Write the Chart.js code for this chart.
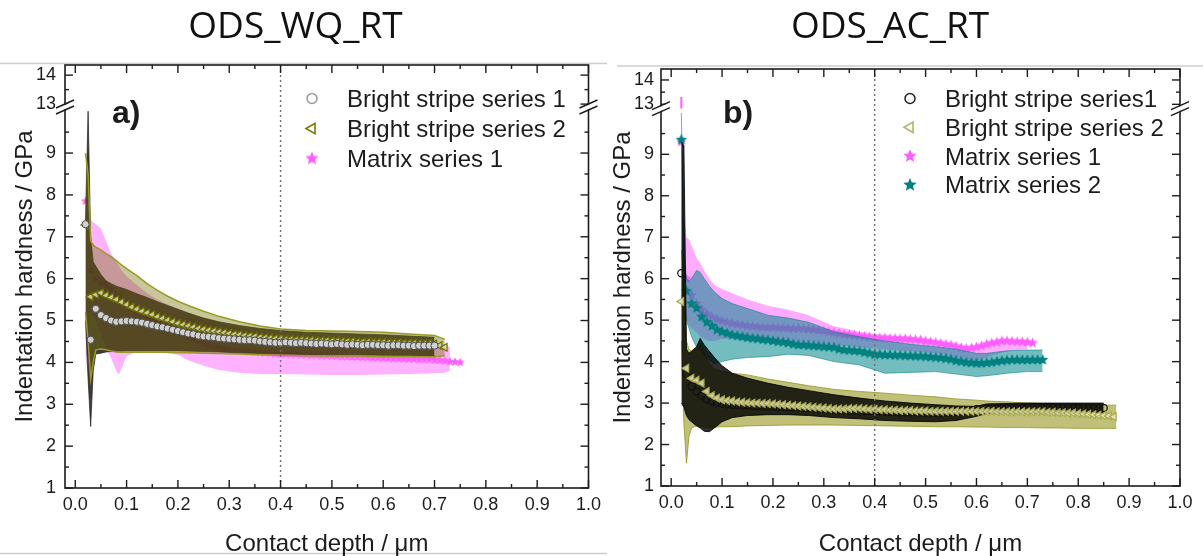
<!DOCTYPE html>
<html>
<head>
<meta charset="utf-8">
<script src="https://cdn.jsdelivr.net/npm/chart.js@4.4.1/dist/chart.umd.min.js"></script>
<style>
  html, body { margin: 0; padding: 0; background: #fff; }
  #wrap { position: relative; width: 1203px; height: 556px; overflow: hidden; }
  canvas { position: absolute; top: 0; }
  #chartA { left: 0; }
  #chartB { left: 600px; }
</style>
</head>
<body>
<div id="wrap">
  <canvas id="chartA" width="607" height="556"></canvas>
  <canvas id="chartB" width="603" height="556"></canvas>
</div>
<script>
// ---- axis ticks ----
const xTickValues = [0, 0.1, 0.2, 0.3, 0.4, 0.5, 0.6, 0.7, 0.8, 0.9, 1.0];
const yTickValues = [1, 2, 3, 4, 5, 6, 7, 8, 9];
const yTopTickValues = [13, 14];
const refDepth = 0.4;

// ---- (a) ODS_WQ_RT : mean hardness vs contact depth ----
const depthA = [0.02, 0.03, 0.04, 0.05, 0.06, 0.07, 0.08, 0.09, 0.10,
  0.11, 0.12, 0.13, 0.14, 0.15, 0.16, 0.17, 0.18, 0.19, 0.20,
  0.21, 0.22, 0.23, 0.24, 0.25, 0.26, 0.27, 0.28, 0.29, 0.30,
  0.31, 0.32, 0.33, 0.34, 0.35, 0.36, 0.37, 0.38, 0.39, 0.40,
  0.41, 0.42, 0.43, 0.44, 0.45, 0.46, 0.47, 0.48, 0.49, 0.50,
  0.51, 0.52, 0.53, 0.54, 0.55, 0.56, 0.57, 0.58, 0.59, 0.60,
  0.61, 0.62, 0.63, 0.64, 0.65, 0.66, 0.67, 0.68, 0.69, 0.70,
  0.71, 0.72, 0.73, 0.74, 0.75];
const brightA1 = [7.30, 4.54, 5.28, 5.13, 5.06, 5.00, 4.97, 4.98, 4.99,
  4.98, 4.97, 4.95, 4.92, 4.89, 4.86, 4.84, 4.81, 4.78, 4.75,
  4.72, 4.69, 4.67, 4.64, 4.62, 4.61, 4.60, 4.58, 4.57, 4.56,
  4.55, 4.54, 4.53, 4.53, 4.52, 4.50, 4.49, 4.48, 4.47, 4.47,
  4.48, 4.47, 4.46, 4.47, 4.46, 4.45, 4.44, 4.45, 4.44, 4.43,
  4.44, 4.43, 4.42, 4.43, 4.42, 4.41, 4.42, 4.42, 4.41, 4.41,
  4.40, 4.41, 4.41, 4.40, 4.40, 4.39, 4.40, 4.40, 4.40, 4.40];
const brightA2 = [7.28, 5.57, 5.62, 5.66, 5.60, 5.55, 5.50, 5.44, 5.38,
  5.32, 5.27, 5.22, 5.18, 5.14, 5.09, 5.05, 5.01, 4.97, 4.93,
  4.90, 4.87, 4.84, 4.81, 4.79, 4.77, 4.75, 4.73, 4.71, 4.69,
  4.67, 4.66, 4.64, 4.63, 4.62, 4.60, 4.59, 4.58, 4.57, 4.56,
  4.55, 4.55, 4.54, 4.54, 4.53, 4.53, 4.52, 4.52, 4.52, 4.51,
  4.51, 4.50, 4.50, 4.50, 4.49, 4.49, 4.49, 4.48, 4.48, 4.48,
  4.47, 4.47, 4.47, 4.46, 4.46, 4.46, 4.45, 4.45, 4.45, 4.44,
  4.40, 4.36];
const matrixA1 = [7.85, 6.20, 6.00, 5.90, 5.85, 5.75, 5.62, 5.50, 5.40,
  5.30, 5.22, 5.15, 5.08, 5.00, 4.95, 4.90, 4.85, 4.80, 4.75,
  4.68, 4.62, 4.56, 4.50, 4.45, 4.41, 4.38, 4.35, 4.32, 4.30,
  4.29, 4.28, 4.27, 4.26, 4.25, 4.24, 4.23, 4.22, 4.21, 4.20,
  4.20, 4.19, 4.19, 4.18, 4.18, 4.17, 4.17, 4.16, 4.16, 4.15,
  4.15, 4.14, 4.14, 4.13, 4.13, 4.12, 4.12, 4.11, 4.11, 4.10,
  4.10, 4.09, 4.09, 4.09, 4.08, 4.08, 4.07, 4.07, 4.07, 4.06,
  4.05, 4.04, 4.02, 4.01, 4.00];

// scatter bands (lower / upper bound) on a coarser depth grid
const bandDepthA = [0.020, 0.025, 0.030, 0.035, 0.040, 0.050, 0.060, 0.070, 0.080, 0.085,
  0.090, 0.100, 0.120, 0.140, 0.160, 0.180, 0.200, 0.220, 0.250, 0.280,
  0.320, 0.360, 0.400, 0.450, 0.500, 0.550, 0.600, 0.650, 0.700, 0.720,
  0.730];
const brightA1Hi = [7.40, 10.00, 7.00, 6.40, 6.30, 6.10, 5.95, 5.88, 5.82, 5.80,
  5.78, 5.74, 5.64, 5.55, 5.45, 5.36, 5.27, 5.18, 5.06, 4.97,
  4.88, 4.81, 4.76, 4.72, 4.70, 4.68, 4.66, 4.63, 4.60, null,
  null];
const brightA1Lo = [5.00, 3.60, 2.47, 3.80, 4.20, 4.22, 4.25, 4.26, 4.26, 4.27,
  4.27, 4.28, 4.28, 4.28, 4.28, 4.28, 4.28, 4.27, 4.26, 4.25,
  4.23, 4.21, 4.20, 4.19, 4.18, 4.18, 4.17, 4.16, 4.15, null,
  null];
const brightA2Hi = [9.00, 8.50, 6.90, 6.80, 6.75, 6.68, 6.60, 6.52, 6.43, 6.38,
  6.33, 6.24, 6.07, 5.88, 5.72, 5.58, 5.46, 5.36, 5.22, 5.10,
  4.97, 4.87, 4.80, 4.76, 4.75, 4.74, 4.72, 4.68, 4.64, 4.55,
  null];
const brightA2Lo = [5.20, 4.50, 3.60, 4.00, 4.30, 4.32, 4.30, 4.27, 4.25, 4.24,
  4.24, 4.24, 4.24, 4.24, 4.24, 4.24, 4.23, 4.23, 4.22, 4.21,
  4.20, 4.18, 4.17, 4.16, 4.15, 4.15, 4.14, 4.14, 4.13, 4.16,
  null];
const matrixA1Hi = [7.90, 7.60, 7.40, 7.35, 7.30, 7.20, 6.90, 6.60, 6.40, 6.30,
  6.20, 6.05, 5.85, 5.65, 5.50, 5.38, 5.28, 5.18, 5.05, 4.95,
  4.82, 4.72, 4.64, 4.59, 4.56, 4.53, 4.51, 4.49, 4.46, 4.42,
  4.36];
const matrixA1Lo = [3.67, 4.50, 5.30, 5.10, 5.00, 4.70, 4.35, 4.10, 3.80, 3.71,
  3.85, 4.15, 4.25, 4.25, 4.25, 4.22, 4.18, 4.05, 3.92, 3.82,
  3.75, 3.72, 3.72, 3.71, 3.70, 3.70, 3.71, 3.72, 3.74, 3.75,
  3.80];

// ---- (b) ODS_AC_RT ----
const depthB = [0.02, 0.03, 0.04, 0.05, 0.06, 0.07, 0.08, 0.09, 0.10,
  0.11, 0.12, 0.13, 0.14, 0.15, 0.16, 0.17, 0.18, 0.19, 0.20,
  0.21, 0.22, 0.23, 0.24, 0.25, 0.26, 0.27, 0.28, 0.29, 0.30,
  0.31, 0.32, 0.33, 0.34, 0.35, 0.36, 0.37, 0.38, 0.39, 0.40,
  0.41, 0.42, 0.43, 0.44, 0.45, 0.46, 0.47, 0.48, 0.49, 0.50,
  0.51, 0.52, 0.53, 0.54, 0.55, 0.56, 0.57, 0.58, 0.59, 0.60,
  0.61, 0.62, 0.63, 0.64, 0.65, 0.66, 0.67, 0.68, 0.69, 0.70,
  0.71, 0.72, 0.73, 0.74, 0.75, 0.76, 0.77, 0.78, 0.79, 0.80,
  0.81, 0.82, 0.83, 0.84, 0.85, 0.86, 0.87];
const brightB1 = [6.13, 3.70, 3.40, 3.28, 3.18, 3.10, 3.05, 3.01, 2.99,
  2.97, 2.96, 2.95, 2.95, 2.94, 2.94, 2.93, 2.93, 2.92, 2.92,
  2.91, 2.91, 2.90, 2.90, 2.89, 2.88, 2.88, 2.87, 2.87, 2.86,
  2.85, 2.84, 2.83, 2.83, 2.82, 2.82, 2.81, 2.81, 2.80, 2.80,
  2.80, 2.79, 2.79, 2.79, 2.78, 2.78, 2.78, 2.78, 2.77, 2.77,
  2.77, 2.77, 2.77, 2.78, 2.78, 2.79, 2.80, 2.81, 2.83, 2.85,
  2.86, 2.87, 2.88, 2.87, 2.88, 2.89, 2.88, 2.88, 2.89, 2.88,
  2.88, 2.89, 2.88, 2.88, 2.89, 2.88, 2.88, 2.89, 2.88, 2.88,
  2.89, 2.88, 2.88, 2.89, 2.88];
const brightB2 = [5.45, 3.84, 3.60, 3.55, 3.48, 3.28, 3.18, 3.12, 3.08,
  3.06, 3.05, 3.03, 3.02, 3.01, 3.00, 3.00, 2.99, 2.99, 2.98,
  2.97, 2.96, 2.95, 2.94, 2.93, 2.92, 2.91, 2.90, 2.89, 2.88,
  2.87, 2.86, 2.86, 2.86, 2.87, 2.87, 2.87, 2.86, 2.85, 2.85,
  2.84, 2.84, 2.83, 2.83, 2.82, 2.82, 2.82, 2.81, 2.81, 2.81,
  2.80, 2.80, 2.80, 2.80, 2.80, 2.80, 2.80, 2.80, 2.80, 2.80,
  2.80, 2.80, 2.80, 2.79, 2.79, 2.79, 2.79, 2.79, 2.79, 2.79,
  2.79, 2.79, 2.79, 2.78, 2.78, 2.77, 2.77, 2.76, 2.76, 2.75,
  2.74, 2.73, 2.72, 2.71, 2.70, 2.69, 2.67];
const matrixB1 = [9.30, 6.00, 5.60, 5.40, 5.25, 5.15, 5.08, 5.02, 4.98,
  4.95, 4.92, 4.90, 4.88, 4.86, 4.85, 4.84, 4.83, 4.82, 4.82,
  4.81, 4.81, 4.80, 4.80, 4.80, 4.79, 4.78, 4.77, 4.75, 4.74,
  4.72, 4.70, 4.68, 4.66, 4.65, 4.64, 4.62, 4.61, 4.59, 4.58,
  4.57, 4.57, 4.56, 4.56, 4.55, 4.55, 4.54, 4.53, 4.52, 4.50,
  4.48, 4.46, 4.44, 4.42, 4.40, 4.37, 4.34, 4.32, 4.33, 4.35,
  4.38, 4.42, 4.45, 4.47, 4.50, 4.50, 4.49, 4.48, 4.48, 4.47,
  4.45];
const matrixB2 = [9.35, 5.70, 5.40, 5.29, 5.08, 4.95, 4.86, 4.77, 4.72,
  4.68, 4.64, 4.62, 4.60, 4.58, 4.56, 4.55, 4.53, 4.52, 4.50,
  4.48, 4.47, 4.45, 4.42, 4.40, 4.40, 4.39, 4.38, 4.37, 4.36,
  4.35, 4.34, 4.30, 4.28, 4.27, 4.26, 4.25, 4.22, 4.20, 4.17,
  4.17, 4.16, 4.16, 4.15, 4.15, 4.14, 4.14, 4.13, 4.13, 4.12,
  4.11, 4.10, 4.09, 4.07, 4.05, 4.02, 4.00, 3.98, 3.97, 3.96,
  3.96, 3.97, 3.98, 4.00, 4.02, 4.03, 4.04, 4.04, 4.04, 4.04,
  4.04, 4.04, 4.04];
// first Matrix series 1 point: error bar continues above the axis break
const capDepthB = [0.02, 0.02];
const matrixB1Cap = [12.82, 13.30];

const bandDepthB = [0.020, 0.025, 0.030, 0.035, 0.040, 0.050, 0.057, 0.065, 0.075, 0.085,
  0.100, 0.120, 0.150, 0.190, 0.230, 0.270, 0.320, 0.370, 0.420, 0.470,
  0.520, 0.560, 0.600, 0.620, 0.660, 0.700, 0.730, 0.760, 0.800, 0.850,
  0.875];
const brightB1Hi = [9.30, 9.20, 4.30, 4.20, 4.25, 4.36, 4.56, 4.40, 4.25, 4.10,
  3.90, 3.72, 3.60, 3.48, 3.38, 3.30, 3.20, 3.12, 3.05, 3.00,
  2.96, 2.93, 2.92, 2.98, 2.99, 3.00, 3.00, 3.00, 3.00, 3.00,
  null];
const brightB1Lo = [3.00, 2.90, 2.70, 2.60, 2.55, 2.45, 2.40, 2.32, 2.31, 2.40,
  2.55, 2.65, 2.70, 2.72, 2.72, 2.70, 2.65, 2.62, 2.58, 2.56,
  2.55, 2.58, 2.68, 2.75, 2.75, 2.75, 2.75, 2.76, 2.76, 2.76,
  null];
const brightB2Hi = [6.70, 6.00, 4.50, 4.30, 4.25, 4.30, 4.40, 4.20, 3.95, 3.82,
  3.76, 3.72, 3.68, 3.58, 3.50, 3.42, 3.33, 3.28, 3.24, 3.19,
  3.15, 3.10, 3.07, 3.05, 3.03, 3.00, 2.99, 2.98, 2.97, 2.95,
  2.95];
const brightB2Lo = [4.50, 2.50, 1.55, 2.20, 2.40, 2.45, 2.45, 2.42, 2.40, 2.42,
  2.43, 2.43, 2.45, 2.46, 2.47, 2.47, 2.47, 2.46, 2.45, 2.44,
  2.43, 2.43, 2.42, 2.42, 2.41, 2.41, 2.40, 2.40, 2.39, 2.39,
  2.39];
const matrixB1Hi = [9.50, 7.50, 7.00, 6.95, 6.80, 6.50, 6.37, 6.20, 6.00, 5.85,
  5.75, 5.65, 5.50, 5.35, 5.25, 5.12, 4.85, 4.72, 4.64, 4.60,
  4.50, 4.40, 4.28, 4.40, 4.52, 4.50, null, null, null, null,
  null];
const matrixB1Lo = [8.80, 5.50, 5.00, 4.90, 4.80, 4.70, 4.60, 4.55, 4.50, 4.50,
  4.55, 4.55, 4.50, 4.50, 4.48, 4.45, 4.40, 4.35, 4.30, 4.25,
  4.20, 4.10, 4.02, 4.10, 4.25, 4.30, null, null, null, null,
  null];
const matrixB2Hi = [10.00, 6.60, 6.00, 5.95, 6.00, 6.20, 6.15, 6.00, 5.82, 5.68,
  5.52, 5.40, 5.28, 5.12, 5.05, 4.95, 4.72, 4.60, 4.50, 4.42,
  4.36, 4.30, 4.20, 4.20, 4.26, 4.28, 4.28, null, null, null,
  null];
const matrixB2Lo = [5.60, 5.40, 5.00, 4.80, 4.60, 4.35, 4.28, 4.15, 4.04, 3.95,
  4.00, 4.06, 4.10, 4.12, 4.18, 4.15, 4.00, 3.92, 3.72, 3.74,
  3.76, 3.70, 3.64, 3.66, 3.72, 3.76, 3.76, null, null, null,
  null];

// ---------------------------------------------------------------
const FONT = 'Liberation Sans';
const INK = '#1c1c1c';

function pts(depth, vals) {
  return vals.map((v, i) => ({ x: depth[i], y: v }));
}

// filled five-point star used as point style
function starImage(color, r) {
  const c = document.createElement('canvas');
  const s = Math.ceil(r * 2 + 2);
  c.width = c.height = s;
  const g = c.getContext('2d');
  g.beginPath();
  for (let i = 0; i < 10; i++) {
    const rr = i % 2 ? r * 0.45 : r;
    const a = -Math.PI / 2 + i * Math.PI / 5;
    g.lineTo(s / 2 + rr * Math.cos(a), s / 2 + rr * Math.sin(a));
  }
  g.closePath();
  g.fillStyle = color;
  g.fill();
  return c;
}

function band(depth, lo, hi, fillColor, edgeColor, edgeWidth, order) {
  return [
    { data: pts(depth, lo), yAxisID: 'y', borderColor: edgeColor, borderWidth: edgeWidth,
      pointRadius: 0, fill: false, order: order },
    { data: pts(depth, hi), yAxisID: 'y', borderColor: edgeColor, borderWidth: edgeWidth,
      pointRadius: 0, fill: '-1', backgroundColor: fillColor, order: order }
  ];
}

function markers(label, depth, vals, style) {
  return Object.assign({ label: label, data: pts(depth, vals), yAxisID: 'y', showLine: false }, style);
}

function line(ctx, x1, y1, x2, y2) {
  ctx.beginPath(); ctx.moveTo(x1, y1); ctx.lineTo(x2, y2); ctx.stroke();
}

function halfSteps(vals, lo, hi) {
  const out = [];
  for (let i = 0; i < vals.length; i++) {
    const step = i < vals.length - 1 ? vals[i + 1] - vals[i] : vals[i] - vals[i - 1];
    const h = vals[i] + step / 2;
    if (h > lo && h < hi) out.push(h);
  }
  return out;
}

// frame, inward ticks, axis break, dotted line, legend and panel labels
const panelDeco = {
  id: 'panelDeco',
  beforeDraw(chart, args, o) {
    const ctx = chart.ctx;
    ctx.save();
    ctx.strokeStyle = '#cdcdcd';
    ctx.lineWidth = 1.5;
    o.sheetLines.forEach(l => line(ctx, l[0], l[1], l[2], l[3]));
    ctx.restore();
  },
  afterDatasetsDraw(chart, args, o) {
    const { ctx, chartArea: ca } = chart;
    const xs = chart.scales.x, ys = chart.scales.y, yt = chart.scales.yTop;
    ctx.save();

    const rx = xs.getPixelForValue(refDepth);
    ctx.strokeStyle = '#707070';
    ctx.lineWidth = 1.4;
    ctx.setLineDash([2, 3]);
    line(ctx, rx, ca.top, rx, ca.bottom);
    ctx.setLineDash([]);

    ctx.strokeStyle = INK;
    ctx.lineWidth = 1.6;
    ctx.strokeRect(ca.left, ca.top, ca.right - ca.left, ca.bottom - ca.top);

    ctx.lineWidth = 1.4;
    xTickValues.forEach(v => {
      const p = xs.getPixelForValue(v);
      line(ctx, p, ca.bottom, p, ca.bottom - 8);
      line(ctx, p, ca.top, p, ca.top + 8);
    });
    halfSteps(xTickValues, xs.min, xs.max).forEach(v => {
      const p = xs.getPixelForValue(v);
      line(ctx, p, ca.bottom, p, ca.bottom - 4);
      line(ctx, p, ca.top, p, ca.top + 4);
    });
    [[ys, yTickValues], [yt, yTopTickValues]].forEach(([s, vals]) => {
      vals.forEach(v => {
        const p = s.getPixelForValue(v);
        line(ctx, ca.left, p, ca.left + 8, p);
        line(ctx, ca.right, p, ca.right - 8, p);
      });
      halfSteps(vals, s.min, s.max).forEach(v => {
        const p = s.getPixelForValue(v);
        line(ctx, ca.left, p, ca.left + 4, p);
        line(ctx, ca.right, p, ca.right - 4, p);
      });
    });

    // axis break marks
    const yb = ys.top;
    [ca.left, ca.right].forEach(ax => {
      ctx.strokeStyle = '#fff';
      ctx.lineWidth = 4;
      line(ctx, ax - 9, yb + 4, ax + 9, yb - 4);
      ctx.strokeStyle = INK;
      ctx.lineWidth = 1.4;
      line(ctx, ax - 9, yb + 7, ax + 9, yb - 1);
      line(ctx, ax - 9, yb + 1, ax + 9, yb - 7);
    });

    // y axis title
    ctx.fillStyle = INK;
    ctx.save();
    ctx.translate(o.yTitleX, (ca.top + ca.bottom) / 2);
    ctx.rotate(-Math.PI / 2);
    ctx.font = '24px "' + FONT + '"';
    ctx.textAlign = 'center';
    ctx.textBaseline = 'middle';
    ctx.fillText('Indentation hardness / GPa', 0, 0);
    ctx.restore();

    // panel letter
    ctx.font = 'bold 32px "' + FONT + '"';
    ctx.textAlign = 'left';
    ctx.textBaseline = 'alphabetic';
    ctx.fillText(o.letter, o.letterX, o.letterY);

    // legend
    o.legend.forEach((it, i) => {
      const cy = o.legendY + i * o.legendDy;
      ctx.fillStyle = it.fill;
      ctx.strokeStyle = it.stroke;
      ctx.lineWidth = it.lineWidth;
      Chart.helpers.drawPoint(ctx, { pointStyle: it.pointStyle, radius: it.radius,
        rotation: it.rotation || 0, borderWidth: it.lineWidth }, o.legendX, cy);
      ctx.fillStyle = INK;
      ctx.font = '24px "' + FONT + '"';
      ctx.fillText(it.label, o.legendTextX, cy + 8.5);
    });
    ctx.restore();
  }
};

function panelConfig(p) {
  const tickFont = { family: FONT, size: 18 };
  return {
    type: 'line',
    data: { datasets: p.datasets },
    options: {
      responsive: false,
      animation: false,
      events: [],
      layout: { padding: { left: 0, right: p.padRight, top: 0, bottom: 0 } },
      elements: { line: { tension: 0 } },
      plugins: {
        legend: { display: false },
        tooltip: { enabled: false },
        title: {
          display: true, text: p.title, color: '#111',
          font: { family: 'Open Sans', size: 37, weight: 'normal', lineHeight: 1 },
          padding: { top: 9, bottom: p.titleGap }
        },
        panelDeco: p.deco
      },
      scales: {
        x: {
          type: 'linear', min: -0.02, max: 1.0,
          grid: { display: false, drawTicks: false }, border: { display: false },
          afterBuildTicks: s => { s.ticks = xTickValues.map(v => ({ value: v })); },
          afterFit: s => { s.height = p.xAxisHeight; },
          ticks: { font: tickFont, color: INK, padding: 6, maxRotation: 0, minRotation: 0,
            autoSkip: false, callback: v => Number(v).toFixed(1) },
          title: { display: true, text: 'Contact depth / μm', color: INK,
            font: { family: FONT, size: 24, lineHeight: 1 }, padding: 0 }
        },
        y: {
          type: 'linear', position: 'left', stack: 'hardness', stackWeight: p.lowWeight,
          min: 1, max: 10.1,
          grid: { display: false, drawTicks: false }, border: { display: false },
          afterBuildTicks: s => { s.ticks = yTickValues.map(v => ({ value: v })); },
          afterFit: s => { s.width = p.yAxisWidth; },
          ticks: { font: tickFont, color: INK, padding: p.yPad, autoSkip: false, callback: v => String(v) }
        },
        yTop: {
          type: 'linear', position: 'left', stack: 'hardness', stackWeight: p.topWeight,
          min: p.topMin, max: p.topMax,
          grid: { display: false, drawTicks: false }, border: { display: false },
          afterBuildTicks: s => { s.ticks = yTopTickValues.map(v => ({ value: v })); },
          afterFit: s => { s.width = p.yAxisWidth; },
          ticks: { font: tickFont, color: INK, padding: p.yPad, autoSkip: false, callback: v => String(v) }
        }
      }
    },
    plugins: [panelDeco]
  };
}

// ---- panel (a) ----
const starPinkA = starImage('#ff5cff', 4.8);
const datasetsA = [
  ...band(bandDepthA, matrixA1Lo, matrixA1Hi, 'rgba(255,85,255,0.45)', 'rgba(0,0,0,0)', 0, 30),
  markers('Matrix series 1', depthA, matrixA1, { pointStyle: starPinkA, order: 25 }),
  ...band(bandDepthA, brightA1Lo, brightA1Hi, 'rgba(20,10,10,0.8)', 'rgba(30,30,30,0.7)', 1, 20),
  ...band(bandDepthA, brightA2Lo, brightA2Hi, 'rgba(115,115,0,0.4)', '#9a9a24', 1.5, 10),
  markers('Bright stripe series 2', depthA, brightA2, { pointStyle: 'triangle', pointRotation: -90,
    pointRadius: 4.5, pointBackgroundColor: 'rgba(215,215,175,0.9)', pointBorderColor: '#6f6f00',
    pointBorderWidth: 1.2, order: 2 }),
  markers('Bright stripe series 1', depthA, brightA1, { pointStyle: 'circle', pointRadius: 3.6,
    pointBackgroundColor: '#d0d0d0', pointBorderColor: '#4a4a4a', pointBorderWidth: 1, order: 1 })
];

new Chart(document.getElementById('chartA'), panelConfig({
  title: 'ODS_WQ_RT', titleGap: 19, padRight: 16, xAxisHeight: 68, yAxisWidth: 65, yPad: 9,
  lowWeight: 381, topWeight: 42, topMin: 12.9, topMax: 14.35,
  datasets: datasetsA,
  deco: {
    sheetLines: [[0, 63.5, 607, 63.5], [0, 553.5, 607, 553.5]],
    yTitleX: 25, letter: 'a)', letterX: 112, letterY: 123,
    legendX: 312, legendTextX: 347, legendY: 98.5, legendDy: 30,
    legend: [
      { label: 'Bright stripe series 1', pointStyle: 'circle', radius: 5, fill: 'rgba(0,0,0,0)', stroke: '#9a9a9a', lineWidth: 1.5 },
      { label: 'Bright stripe series 2', pointStyle: 'triangle', rotation: -90, radius: 6, fill: 'rgba(0,0,0,0)', stroke: '#7a7a00', lineWidth: 1.6 },
      { label: 'Matrix series 1', pointStyle: starImage('#ff5cff', 7), radius: 7, fill: '#ff5cff', stroke: '#ff5cff', lineWidth: 0 }
    ]
  }
}));

// ---- panel (b) ----
const starPinkB = starImage('#ff5cff', 5.5);
const starTealB = starImage('#008080', 6);
const datasetsB = [
  ...band(bandDepthB, matrixB1Lo, matrixB1Hi, 'rgba(255,70,255,0.45)', 'rgba(0,0,0,0)', 0, 40),
  markers('Matrix series 1', depthB, matrixB1, { pointStyle: starPinkB, order: 38 }),
  { data: pts(capDepthB, matrixB1Cap), yAxisID: 'yTop', borderColor: '#ff5cff', borderWidth: 2,
    pointRadius: 0, fill: false, order: 38 },
  ...band(bandDepthB, matrixB2Lo, matrixB2Hi, 'rgba(0,135,140,0.55)', 'rgba(0,128,128,0.55)', 1, 35),
  markers('Matrix series 2', depthB, matrixB2, { pointStyle: starTealB, order: 32 }),
  ...band(bandDepthB, brightB2Lo, brightB2Hi, 'rgba(150,150,30,0.6)', 'rgba(150,150,40,0.8)', 1, 30),
  ...band(bandDepthB, brightB1Lo, brightB1Hi, 'rgba(0,0,0,0.82)', 'rgba(0,0,0,0.85)', 1, 25),
  markers('Bright stripe series1', depthB, brightB1, { pointStyle: 'circle', pointRadius: 3.6,
    pointBackgroundColor: 'rgba(0,0,0,0)', pointBorderColor: '#111', pointBorderWidth: 1.2, order: 3 }),
  markers('Bright stripe series 2', depthB, brightB2, { pointStyle: 'triangle', pointRotation: -90,
    pointRadius: 4.5, pointBackgroundColor: 'rgba(235,235,190,0.85)', pointBorderColor: '#a8a850',
    pointBorderWidth: 1.2, order: 2 })
];

new Chart(document.getElementById('chartB'), panelConfig({
  title: 'ODS_AC_RT', titleGap: 23, padRight: 23, xAxisHeight: 70, yAxisWidth: 61, yPad: 7,
  lowWeight: 377.3, topWeight: 39.7, topMin: 12.82, topMax: 14.45,
  datasets: datasetsB,
  deco: {
    sheetLines: [[17, 66, 603, 66]],
    yTitleX: 23, letter: 'b)', letterX: 123, letterY: 123,
    legendX: 310, legendTextX: 345, legendY: 98.5, legendDy: 28.8,
    legend: [
      { label: 'Bright stripe series1', pointStyle: 'circle', radius: 5, fill: 'rgba(0,0,0,0)', stroke: '#222', lineWidth: 1.5 },
      { label: 'Bright stripe series 2', pointStyle: 'triangle', rotation: -90, radius: 6, fill: 'rgba(0,0,0,0)', stroke: '#b5b56a', lineWidth: 1.6 },
      { label: 'Matrix series 1', pointStyle: starImage('#ff5cff', 7), radius: 7, fill: '#ff5cff', stroke: '#ff5cff', lineWidth: 0 },
      { label: 'Matrix series 2', pointStyle: starImage('#008080', 7), radius: 7, fill: '#008080', stroke: '#008080', lineWidth: 0 }
    ]
  }
}));
</script>
</body>
</html>
